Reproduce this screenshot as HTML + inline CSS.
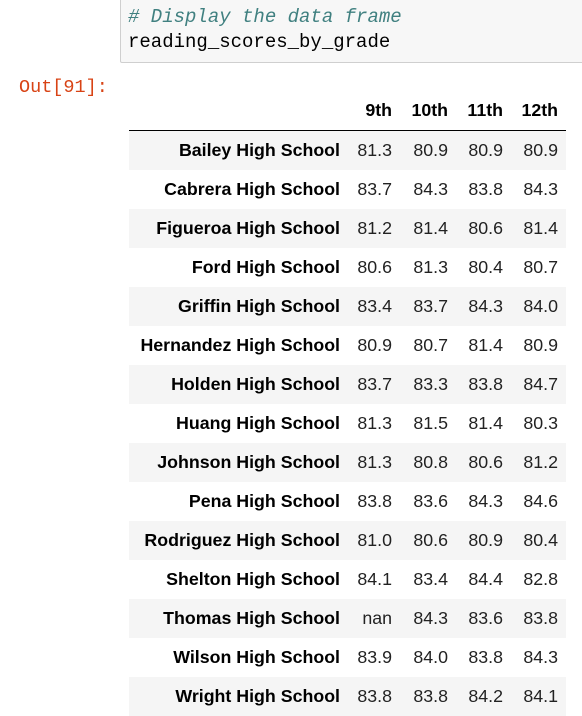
<!DOCTYPE html>
<html><head><meta charset="utf-8"><style>
body{margin:0;width:582px;height:715px;background:#fff;position:relative;overflow:hidden;font-family:"Liberation Sans",Arial,sans-serif}
.code{position:absolute;left:120px;top:-2px;width:470px;height:65px;background:#f7f7f7;border:1px solid #cfcfcf;border-radius:2px;box-sizing:border-box;font-family:"Liberation Mono",monospace;font-size:19px;line-height:25px;padding:6px 0 0 7px}
.cm{color:#408080;font-style:italic}
.out{position:absolute;left:19px;top:77px;font-family:"Liberation Mono",monospace;font-size:18.5px;color:#d84315}
table{position:absolute;left:129px;top:90px;border-collapse:collapse;font-size:17.8px;table-layout:fixed}
th,td{text-align:right;padding:0 8px 0 0;height:39px;white-space:nowrap}
thead th{height:40px;border-bottom:1px solid #000}
tbody th{font-weight:bold}
tbody tr:nth-child(odd){background:#f5f5f5}
td{color:#222}
</style></head><body>
<div class="code"><span class="cm"># Display the data frame</span><br>reading_scores_by_grade</div>
<div class="out">Out[91]:</div>
<table>
<colgroup><col style="width:219px"><col style="width:52px"><col style="width:56px"><col style="width:55px"><col style="width:55px"></colgroup>
<thead><tr><th></th><th>9th</th><th>10th</th><th>11th</th><th>12th</th></tr></thead>
<tbody id="tb"></tbody></table>
<script>
const schools=["Bailey","Cabrera","Figueroa","Ford","Griffin","Hernandez","Holden","Huang","Johnson","Pena","Rodriguez","Shelton","Thomas","Wilson","Wright"];
const g9=["81.3","83.7","81.2","80.6","83.4","80.9","83.7","81.3","81.3","83.8","81.0","84.1","nan","83.9","83.8"];
const g10=["80.9","84.3","81.4","81.3","83.7","80.7","83.3","81.5","80.8","83.6","80.6","83.4","84.3","84.0","83.8"];
const g11=["80.9","83.8","80.6","80.4","84.3","81.4","83.8","81.4","80.6","84.3","80.9","84.4","83.6","83.8","84.2"];
const g12=["80.9","84.3","81.4","80.7","84.0","80.9","84.7","80.3","81.2","84.6","80.4","82.8","83.8","84.3","84.1"];
const tb=document.getElementById('tb');
schools.forEach((s,i)=>{
 const tr=document.createElement('tr');
 
 
 tr.innerHTML='<th>'+s+' High School</th><td>'+g9[i]+'</td><td>'+g10[i]+'</td><td>'+g11[i]+'</td><td>'+g12[i]+'</td>';
 tb.appendChild(tr);
});
</script>
</body></html>
